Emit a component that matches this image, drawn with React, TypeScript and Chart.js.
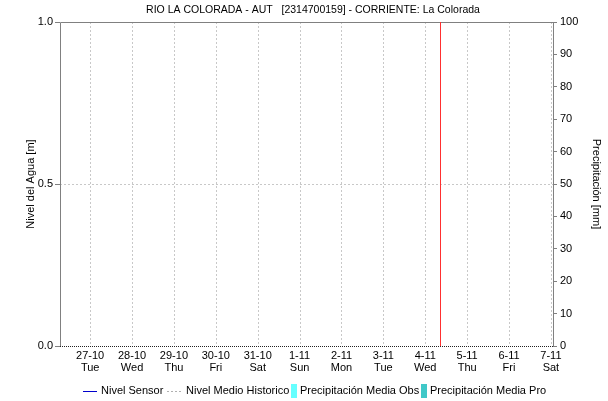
import React, { useEffect, useRef } from "react";
import { Chart, registerables } from "chart.js";

Chart.register(...registerables);

const TITLE = "RIO LA COLORADA - AUT   [2314700159] - CORRIENTE: La Colorada";
const DATES = ["27-10", "28-10", "29-10", "30-10", "31-10", "1-11", "2-11", "3-11", "4-11", "5-11", "6-11", "7-11"];
const WEEKDAYS = ["Tue", "Wed", "Thu", "Fri", "Sat", "Sun", "Mon", "Tue", "Wed", "Thu", "Fri", "Sat"];
const X_MIN = -0.72;
const X_MAX = 11.05;
const NOW_X = 8.36;
const LEVEL_TICKS = [0, 0.5, 1.0];
const RAIN_TICKS = [0, 10, 20, 30, 40, 50, 60, 70, 80, 90, 100];
const NIVEL_SENSOR: number[] = [];
const NIVEL_MEDIO: number[] = [];
const PRECIP_OBS = [0, 0, 0, 0, 0, 0, 0, 0, 0, 0, 0, 0];
const PRECIP_PRO: number[] = [];

const FONT = "Liberation Sans, Arial, sans-serif";
const NARROW = "Liberation Sans Narrow, Arial Narrow, Liberation Sans, sans-serif";

const overlay = {
  id: "overlay",
  beforeDatasetsDraw(chart: any) {
    const { ctx, chartArea: a, scales } = chart;
    const x = scales.x, y = scales.y;
    ctx.save();
    ctx.lineWidth = 1;
    ctx.strokeStyle = "#c8c8c8";
    ctx.setLineDash([2, 2]);
    DATES.forEach((_, i) => {
      const px = Math.round(x.getPixelForValue(i)) + 0.5;
      ctx.beginPath();
      ctx.moveTo(px, a.top);
      ctx.lineTo(px, a.bottom);
      ctx.stroke();
    });
    const py = Math.round(y.getPixelForValue(0.5)) + 0.5;
    ctx.beginPath();
    ctx.moveTo(a.left, py);
    ctx.lineTo(a.right, py);
    ctx.stroke();
    ctx.setLineDash([]);
    ctx.strokeStyle = "#808080";
    ctx.beginPath();
    ctx.moveTo(a.left + 0.5, a.bottom);
    ctx.lineTo(a.left + 0.5, a.top + 0.5);
    ctx.lineTo(a.right + 0.5, a.top + 0.5);
    ctx.lineTo(a.right + 0.5, a.bottom);
    ctx.stroke();
    ctx.restore();
  },
  afterDraw(chart: any) {
    const { ctx, chartArea: a, scales } = chart;
    ctx.save();
    ctx.strokeStyle = "#222";
    ctx.setLineDash([1, 1]);
    ctx.beginPath();
    ctx.moveTo(a.left, a.bottom + 0.5);
    ctx.lineTo(a.right + 1, a.bottom + 0.5);
    ctx.stroke();
    ctx.setLineDash([]);
    const nx = Math.round(scales.x.getPixelForValue(NOW_X)) + 0.5;
    ctx.strokeStyle = "#ff3030";
    ctx.beginPath();
    ctx.moveTo(nx, a.top);
    ctx.lineTo(nx, a.bottom);
    ctx.stroke();
    ctx.fillStyle = "#000";
    ctx.textAlign = "center";
    ctx.textBaseline = "middle";
    ctx.font = `10.5px ${FONT}`;
    ctx.fillText(TITLE, 313, 10);
    ctx.font = `11px ${FONT}`;
    ctx.save();
    ctx.translate(31, (a.top + a.bottom) / 2);
    ctx.rotate(-Math.PI / 2);
    ctx.fillText("Nivel del Agua [m]", 0, 0);
    ctx.restore();
    ctx.save();
    ctx.translate(596, (a.top + a.bottom) / 2);
    ctx.rotate(Math.PI / 2);
    ctx.fillText("Precipitación [mm]", 0, 0);
    ctx.restore();
    const ly = 391;
    ctx.textAlign = "left";
    ctx.lineWidth = 1;
    ctx.strokeStyle = "#0000cc";
    ctx.beginPath();
    ctx.moveTo(83, ly + 0.5);
    ctx.lineTo(97, ly + 0.5);
    ctx.stroke();
    ctx.fillText("Nivel Sensor", 101, ly);
    ctx.strokeStyle = "#b0b0b0";
    ctx.setLineDash([2, 2]);
    ctx.beginPath();
    ctx.moveTo(167, ly + 0.5);
    ctx.lineTo(181, ly + 0.5);
    ctx.stroke();
    ctx.setLineDash([]);
    ctx.fillText("Nivel Medio Historico", 186, ly);
    ctx.fillStyle = "#66ffff";
    ctx.fillRect(291, ly - 7, 6, 14);
    ctx.fillStyle = "#000";
    ctx.fillText("Precipitación Media Obs", 300, ly);
    ctx.fillStyle = "#40c8c8";
    ctx.fillRect(421, ly - 7, 6, 14);
    ctx.fillStyle = "#000";
    ctx.fillText("Precipitación Media Pro", 430, ly);
    ctx.restore();
  },
};

export default function App() {
  const ref = useRef<HTMLCanvasElement>(null);
  useEffect(() => {
    const chart = new Chart(ref.current!, {
      type: "bar",
      data: {
        datasets: [
          { type: "line", label: "Nivel Sensor", data: NIVEL_SENSOR.map((v, i) => ({ x: i, y: v })), borderColor: "#0000cc", borderWidth: 1, pointRadius: 0, yAxisID: "y" },
          { type: "line", label: "Nivel Medio Historico", data: NIVEL_MEDIO.map((v, i) => ({ x: i, y: v })), borderColor: "#b0b0b0", borderDash: [2, 2], borderWidth: 1, pointRadius: 0, yAxisID: "y" },
          { type: "bar", label: "Precipitación Media Obs", data: PRECIP_OBS.map((v, i) => ({ x: i, y: v })), backgroundColor: "#66ffff", yAxisID: "y1" },
          { type: "bar", label: "Precipitación Media Pro", data: PRECIP_PRO.map((v, i) => ({ x: i, y: v })), backgroundColor: "#40c8c8", yAxisID: "y1" },
        ] as any,
      },
      options: {
        animation: false,
        responsive: false,
        maintainAspectRatio: false,
        layout: { padding: { top: 22, left: 0, right: 0, bottom: 0 } },
        plugins: { legend: { display: false }, title: { display: false }, tooltip: { enabled: false } },
        scales: {
          x: {
            type: "linear",
            position: "bottom",
            offset: false,
            min: X_MIN,
            max: X_MAX,
            afterBuildTicks: (s: any) => { s.ticks = DATES.map((_, i) => ({ value: i })); },
            afterFit: (s: any) => { s.height = 55; },
            ticks: {
              autoSkip: false,
              maxRotation: 0,
              padding: 4,
              color: "#000",
              font: { family: NARROW, size: 11, lineHeight: 1.1 },
              callback: (v: any) => [DATES[v], WEEKDAYS[v]],
            },
            grid: { drawOnChartArea: false, drawTicks: false, offset: false },
            border: { display: false },
          },
          y: {
            type: "linear",
            position: "left",
            min: 0,
            max: 1,
            afterBuildTicks: (s: any) => { s.ticks = LEVEL_TICKS.map((v) => ({ value: v })); },
            afterFit: (s: any) => { s.width = 60; },
            ticks: { padding: 2, color: "#000", font: { family: NARROW, size: 11 }, callback: (v: any) => Number(v).toFixed(1) },
            grid: { drawOnChartArea: false, tickLength: 5, tickColor: "#808080", color: "#808080" },
            border: { display: false },
          },
          y1: {
            type: "linear",
            position: "right",
            min: 0,
            max: 100,
            afterBuildTicks: (s: any) => { s.ticks = RAIN_TICKS.map((v) => ({ value: v })); },
            afterFit: (s: any) => { s.width = 55; },
            ticks: { padding: 3, color: "#000", font: { family: NARROW, size: 11 } },
            grid: { drawOnChartArea: false, tickLength: 4, tickColor: "#808080", color: "#808080" },
            border: { display: false },
          },
        },
      } as any,
      plugins: [overlay],
    });
    return () => chart.destroy();
  }, []);
  return (
    <div style={{ position: "absolute", left: 0, top: 0, width: 608, height: 401, background: "#fff" }}>
      <canvas ref={ref} width={608} height={401} style={{ width: 608, height: 401 }} />
    </div>
  );
}
